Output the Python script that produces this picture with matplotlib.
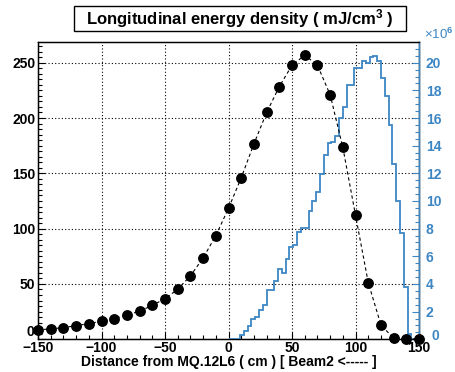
import matplotlib
matplotlib.use("Agg")
import matplotlib.pyplot as plt
import matplotlib.transforms as mtransforms
from matplotlib.patches import Rectangle
from matplotlib.ticker import MultipleLocator, FuncFormatter
import numpy as np

plt.rcParams["font.family"] = ["Liberation Sans", "DejaVu Sans"]
plt.rcParams["font.weight"] = "bold"
plt.rcParams["mathtext.fontset"] = "custom"
plt.rcParams["mathtext.rm"] = "Liberation Sans:bold"
plt.rcParams["mathtext.bf"] = "Liberation Sans:bold"
plt.rcParams["mathtext.default"] = "bf"

# Energy density profile (black points), mJ/cm^3
positions = [-150, -140, -130, -120, -110, -100, -90, -80, -70, -60, -50,
             -40, -30, -20, -10, 0, 10, 20, 30, 40, 50,
             60, 70, 80, 90, 100, 110, 120, 130, 140, 150]
density = [8.4, 9.4, 10.5, 12.3, 14.1, 16.3, 18.6, 22.0, 25.3, 30.7, 36.7,
           45.2, 57.3, 73.5, 93.7, 118.4, 146.0, 176.6, 205.0, 228.4, 247.7,
           256.8, 247.7, 221.0, 173.4, 112.0, 51.2, 12.9, 0.8, 0.3, 0.2]

# Histogram (blue, right axis, x10^6), 3 cm bins from 0 to 150
hist_start = 0
hist_width = 3
hist_values = [0, 0, 0, 0.29, 0.58, 0.94, 1.49, 1.58, 2.14, 2.45,
               3.53, 3.53, 4.22, 5.09, 4.78, 5.78, 6.65, 6.82, 7.73, 8.02,
               8.02, 9.29, 10.0, 10.66, 11.98, 13.3, 14.2, 14.26, 14.7, 16.0,
               16.8, 18.4, 18.4, 19.65, 19.65, 20.1, 19.97, 20.4, 20.45, 20.1,
               18.9, 17.6, 15.5, 12.65, 10.0, 7.65, 3.8, 0.4, 0, 0]
hist_edges = hist_start + hist_width * np.arange(len(hist_values) + 1)

blue = "#3d86c4"
left_max = 269
scale = 12.5  # left units per 1e6 on the right axis
tick_fs = 10


# tick labels without the zero (drawn separately, shifted like ROOT does)
def no_zero(v, pos):
    return "" if abs(v) < 1e-9 else f"{v:g}"


fig = plt.figure(figsize=(4.55, 3.72), dpi=100)
ax = fig.add_axes([0.0835, 0.088, 0.8375, 0.80])

# dotted grid
ax.grid(True, which="major", color="black", linestyle=(0, (1, 2)), linewidth=0.8)
ax.set_axisbelow(True)

ax.set_xlim(-150, 150)
ax.set_ylim(0, left_max)
ax.xaxis.set_major_locator(MultipleLocator(50))
ax.xaxis.set_minor_locator(MultipleLocator(10))
ax.yaxis.set_major_locator(MultipleLocator(50))
ax.yaxis.set_minor_locator(MultipleLocator(5))
ax.yaxis.set_major_formatter(FuncFormatter(no_zero))
ax.tick_params(which="both", direction="in", labelsize=tick_fs, width=0.8)
ax.tick_params(which="major", length=5)
ax.tick_params(which="minor", length=3)
ax.tick_params(axis="x", pad=1.5)
ax.tick_params(axis="y", pad=2)
for lab in ax.get_xticklabels() + ax.get_yticklabels():
    lab.set_fontweight("bold")
for s in ax.spines.values():
    s.set_linewidth(1.0)

# left "0", lifted so it clears "-150"
lift = mtransforms.ScaledTranslation(-2.8 / 72, 7 / 100, fig.dpi_scale_trans)
ax.text(0, 0, "0", transform=ax.get_yaxis_transform() + lift,
        ha="right", va="center", fontsize=tick_fs, fontweight="bold")

ax.set_xlabel("Distance from MQ.12L6 ( cm ) [ Beam2 <----- ]", fontsize=10,
              fontweight="bold", labelpad=0)

# right axis with histogram
ax2 = ax.twinx()
ax2.stairs(hist_values, hist_edges, color=blue, linewidth=1.3, zorder=3)
ax2.set_ylim(0, left_max / scale)
ax2.yaxis.set_major_locator(MultipleLocator(2))
ax2.yaxis.set_minor_locator(MultipleLocator(0.5))
ax2.yaxis.set_major_formatter(FuncFormatter(no_zero))
ax2.tick_params(which="both", direction="in", labelsize=tick_fs, width=0.8,
                color=blue, labelcolor=blue, pad=5)
ax2.tick_params(which="major", length=5)
ax2.tick_params(which="minor", length=3)
for lab in ax2.get_yticklabels():
    lab.set_fontweight("bold")
ax2.spines["right"].set_color(blue)
ax2.spines["right"].set_linewidth(1.0)

# right "0", nudged clear of "150"
nudge = mtransforms.ScaledTranslation(12 / 100, 3 / 100, fig.dpi_scale_trans)
ax2.text(1, 0, "0", transform=ax2.get_yaxis_transform() + nudge,
         ha="left", va="center", fontsize=tick_fs, fontweight="bold", color=blue)

ax2.text(1.012, 0.998, r"×10$^{6}$", transform=ax2.transAxes, color=blue,
         fontsize=9.5, ha="left", va="bottom", fontweight="normal")

# points joined by dashed line, drawn on top and not clipped at the frame
line, = ax2.plot(positions, np.array(density) / scale, color="black",
                 linestyle=(0, (3, 2.5)), linewidth=0.8, marker="o", markersize=6.8,
                 markerfacecolor="black", markeredgecolor="black", zorder=4)
line.set_clip_on(False)

# title box
fig.add_artist(Rectangle((74 / 455, 1 - 30.7 / 372), 332 / 455, 25 / 372,
                         transform=fig.transFigure, facecolor="white",
                         edgecolor="black", linewidth=1.0))
fig.text(240 / 455, 1 - 18.5 / 372, r"Longitudinal energy density ( mJ/cm$^{3}$ )",
         ha="center", va="center", fontsize=12, fontweight="bold")

fig.savefig("out.png", dpi=100)
